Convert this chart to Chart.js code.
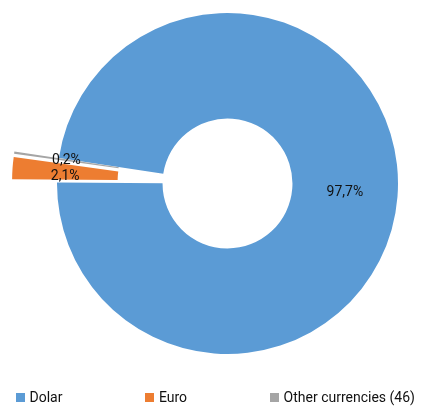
<!DOCTYPE html>
<html>
<head>
<meta charset="utf-8">
<script src="https://cdn.jsdelivr.net/npm/chart.js@4"></script>
<style>
  html, body { margin: 0; padding: 0; background: #fff; }
  #wrap { position: relative; width: 421px; height: 406px; }
  #legend {
    position: absolute; left: 16px; top: 388px;
    display: flex; gap: 83px;
    font: 14px "Liberation Sans Narrow", Roboto, sans-serif;
    line-height: 18px; color: #111; white-space: nowrap;
  }
  #legend .item { display: flex; align-items: center; }
  #legend .item i { display: inline-block; width: 9px; height: 9px; margin-right: 4.5px; }
</style>
</head>
<body>
<div id="wrap">
  <canvas id="currencyChart"></canvas>
  <div id="legend"></div>
</div>
<script>
const currencies = ['Dolar', 'Euro', 'Other currencies (46)'];
const shares = [97.7, 2.1, 0.2];
const sliceColors = ['#5B9BD5', '#ED7D31', '#A5A5A5'];

const FONT = '"Liberation Sans Narrow", Roboto, sans-serif';

function formatShare(v) {
    return v.toFixed(1).replace('.', ',') + '%';
}

// pull slices out along their bisector (plain shift, like an exploded pie)
const explodeSlices = {
    id: 'explodeSlices',
    afterDatasetUpdate(chart, args, opts) {
        args.meta.data.forEach((arc, i) => {
            const d = opts.distance[i] || 0;
            if (!d) return;
            const mid = (arc.startAngle + arc.endAngle) / 2;
            arc.x += Math.cos(mid) * d;
            arc.y += Math.sin(mid) * d;
        });
    }
};

// percentage labels in the middle of each ring slice
const sliceLabels = {
    id: 'sliceLabels',
    afterDatasetsDraw(chart) {
        const ctx = chart.ctx;
        const meta = chart.getDatasetMeta(0);
        const labels = meta.data.map((arc, i) => {
            const p = arc.getProps(['x', 'y', 'startAngle', 'endAngle', 'innerRadius', 'outerRadius'], true);
            const mid = (p.startAngle + p.endAngle) / 2;
            const r = (p.innerRadius + p.outerRadius) / 2;
            return { text: formatShare(shares[i]), x: p.x + Math.cos(mid) * r, y: p.y + Math.sin(mid) * r };
        });
        // keep small labels from sitting on top of each other
        labels.sort((a, b) => a.y - b.y);
        for (let i = 1; i < labels.length; i++) {
            const prev = labels[i - 1];
            if (Math.abs(prev.x - labels[i].x) < 40 && labels[i].y - prev.y < 16.5) {
                labels[i].y = prev.y + 16.5;
            }
        }
        ctx.save();
        ctx.font = '14px ' + FONT;
        ctx.fillStyle = '#111';
        ctx.textAlign = 'center';
        ctx.textBaseline = 'middle';
        labels.forEach(l => ctx.fillText(l.text, l.x, l.y));
        ctx.restore();
    }
};

new Chart(document.getElementById('currencyChart'), {
    type: 'doughnut',
    data: {
        labels: currencies,
        datasets: [{
            data: shares,
            backgroundColor: sliceColors,
            borderWidth: 0,
            clip: false
        }]
    },
    options: {
        responsive: true,
        maintainAspectRatio: false,
        animation: false,
        rotation: -81.4,
        cutout: '38.1%',
        radius: 170.5,
        layout: {
            padding: { top: 0, bottom: 39, left: 34, right: 0 }
        },
        plugins: {
            tooltip: { enabled: false },
            legend: { display: false },
            explodeSlices: { distance: [0, 45, 45] }
        }
    },
    plugins: [explodeSlices, sliceLabels]
});

// legend row under the chart
const legendBox = document.getElementById('legend');
currencies.forEach((name, i) => {
    const item = document.createElement('span');
    item.className = 'item';
    const swatch = document.createElement('i');
    swatch.style.background = sliceColors[i];
    item.appendChild(swatch);
    item.appendChild(document.createTextNode(name));
    legendBox.appendChild(item);
});
</script>
</body>
</html>
